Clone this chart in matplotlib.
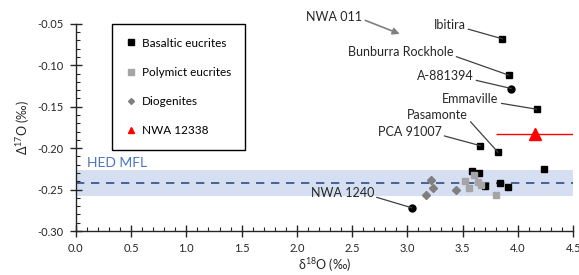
import matplotlib
matplotlib.use("Agg")
import matplotlib.pyplot as plt
from matplotlib.lines import Line2D
from matplotlib.ticker import MultipleLocator, FormatStrFormatter

plt.rcParams['font.family'] = ['Lato', 'DejaVu Sans']
plt.rcParams['mathtext.fontset'] = 'custom'
plt.rcParams['mathtext.rm'] = 'Lato'
plt.rcParams['axes.unicode_minus'] = False

# data
basaltic_x = [3.86, 3.92, 4.17, 3.66, 3.82, 3.58, 3.65, 3.70, 3.84, 3.91, 4.24]
basaltic_y = [-0.068, -0.112, -0.153, -0.197, -0.205, -0.228, -0.230, -0.246, -0.242, -0.247, -0.225]
polymict_x = [3.60, 3.52, 3.56, 3.64, 3.67, 3.80]
polymict_y = [-0.232, -0.240, -0.248, -0.241, -0.244, -0.256]
diogenite_x = [3.21, 3.23, 3.17, 3.44]
diogenite_y = [-0.238, -0.248, -0.256, -0.250]
circle_x = [3.94, 3.04]
circle_y = [-0.128, -0.272]
nwa12338_x = 4.15
nwa12338_y = -0.183
nwa12338_xerr = 0.35
nwa12338_yerr = 0.007

mfl_center = -0.242
mfl_low = -0.258
mfl_high = -0.226

# label, point, text position (data units)
labels = [
    ("Ibitira", (3.86, -0.068), (3.38, -0.051)),
    ("Bunburra Rockhole", (3.92, -0.112), (2.94, -0.084)),
    ("A-881394", (3.94, -0.128), (3.34, -0.113)),
    ("Emmaville", (4.17, -0.153), (3.57, -0.141)),
    ("Pasamonte", (3.82, -0.205), (3.27, -0.160)),
    ("PCA 91007", (3.66, -0.197), (3.02, -0.180)),
    ("NWA 1240", (3.04, -0.272), (2.41, -0.254)),
]

fig = plt.figure(figsize=(5.79, 2.75), dpi=100)
ax = fig.add_axes([0.131, 0.16, 0.859, 0.753])

ax.axhspan(mfl_low, mfl_high, xmin=0, xmax=1, color='#D6DFF1', zorder=0, lw=0)
ax.axhline(mfl_center, color='#2E4D85', ls=(0, (5, 4)), lw=1.2, zorder=1)
ax.text(0.1, -0.2255, "HED MFL", color='#4A74C4', fontsize=10, va='bottom')

ax.plot(basaltic_x, basaltic_y, 's', color='black', ms=5, zorder=3)
ax.plot(polymict_x, polymict_y, 's', color='#A5A5A5', ms=5, zorder=4)
ax.plot(diogenite_x, diogenite_y, 'D', color='#7F7F7F', ms=3.8, zorder=4)
ax.plot(circle_x, circle_y, 'o', color='black', ms=5, zorder=3)
ax.errorbar([nwa12338_x], [nwa12338_y], xerr=nwa12338_xerr, yerr=nwa12338_yerr,
            fmt='^', color='red', ms=8, lw=1, capsize=0, zorder=5)

for name, pt, txt in labels:
    ax.annotate(name, xy=pt, xytext=txt, fontsize=9, ha='center', va='center',
                color='#262626',
                arrowprops=dict(arrowstyle='-', color='#404040', lw=0.9,
                                relpos=(1.0, 0.2), shrinkA=0, shrinkB=0))

ax.annotate("NWA 011", xy=(2.93, -0.062), xytext=(2.34, -0.0415), fontsize=9,
            ha='center', va='center', color='#262626', annotation_clip=False,
            arrowprops=dict(arrowstyle='-|>', color='#7F7F7F', lw=1.2,
                            mutation_scale=10, relpos=(1.0, 0.3), shrinkA=0, shrinkB=0))

ax.set_xlim(0, 4.5)
ax.set_ylim(-0.30, -0.05)
ax.xaxis.set_major_locator(MultipleLocator(0.5))
ax.xaxis.set_minor_locator(MultipleLocator(0.1))
ax.yaxis.set_major_locator(MultipleLocator(0.05))
ax.yaxis.set_minor_locator(MultipleLocator(0.01))
ax.xaxis.set_major_formatter(FormatStrFormatter('%.1f'))
ax.yaxis.set_major_formatter(FormatStrFormatter('%.2f'))

for s in ['top', 'right']:
    ax.spines[s].set_visible(False)
for s in ['left', 'bottom']:
    ax.spines[s].set_color('#262626')
    ax.spines[s].set_linewidth(1)

ax.tick_params(which='major', direction='inout', length=8, width=1, color='#262626',
               labelsize=8, labelcolor='#262626', pad=5)
ax.tick_params(which='minor', direction='in', length=3, width=0.8, color='#262626')

ax.set_xlabel(r"δ$^{18}$O (‰)", fontsize=9, color='#262626', labelpad=1)
ax.set_ylabel(r"Δ$^{17}$O (‰)", fontsize=9, color='#262626', labelpad=4)

handles = [
    Line2D([], [], ls='none', marker='s', color='black', ms=4),
    Line2D([], [], ls='none', marker='s', color='#A5A5A5', ms=4),
    Line2D([], [], ls='none', marker='D', color='#7F7F7F', ms=3),
    Line2D([], [], ls='none', marker='^', color='red', ms=5),
]
names = ['Basaltic eucrites', 'Polymict eucrites', 'Diogenites', 'NWA 12338']
leg = ax.legend(handles, names, loc='upper left', bbox_to_anchor=(0.072, 1.0), fontsize=8.5,
                frameon=True, fancybox=False, edgecolor='black', framealpha=1,
                labelspacing=1.55, handlelength=1.0, handletextpad=0.4,
                borderpad=1.15, borderaxespad=0)
leg.get_frame().set_linewidth(1)

fig.savefig("out.png", dpi=100)
